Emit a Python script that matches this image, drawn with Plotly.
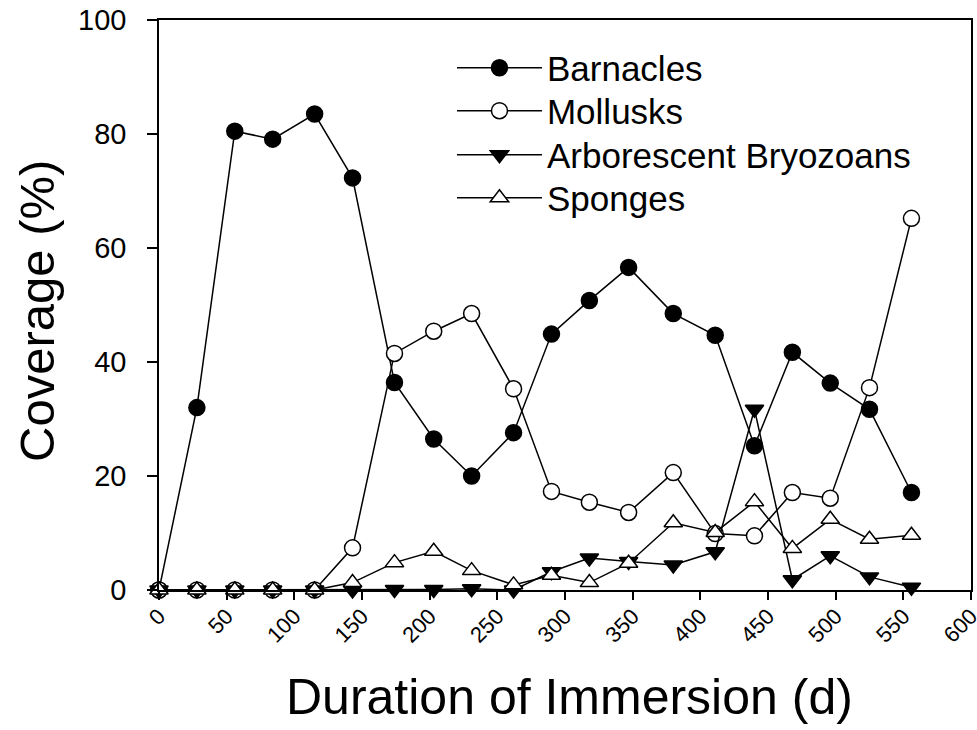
import plotly.graph_objects as go

days = [0, 28, 56, 84, 115, 143, 174, 203, 231, 262, 290, 318, 347, 380, 411, 440, 468, 496, 525, 556]
barnacles = [0, 32.0, 80.5, 79.1, 83.5, 72.3, 36.4, 26.5, 20.0, 27.6, 44.9, 50.8, 56.6, 48.5, 44.7, 25.3, 41.7, 36.3, 31.7, 17.1]
mollusks = [0, 0, 0, 0, 0, 7.4, 41.5, 45.4, 48.5, 35.3, 17.3, 15.4, 13.6, 20.6, 9.9, 9.5, 17.1, 16.1, 35.5, 65.2]
bryozoans = [0, 0, 0, 0, 0, 0, 0.1, 0.1, 0.2, 0, 3.2, 5.6, 5.0, 4.4, 6.7, 31.7, 1.8, 6.0, 2.3, 0.5]
sponges = [0, 0, 0, 0, 0, 1.3, 4.8, 6.8, 3.4, 0.9, 2.6, 1.3, 4.7, 11.8, 10.1, 15.5, 7.3, 12.4, 8.9, 9.6]

x_ticks = [0, 50, 100, 150, 200, 250, 300, 350, 400, 450, 500, 550, 600]
y_ticks = [0, 20, 40, 60, 80, 100]
x_title = "Duration of Immersion (d)"
y_title = "Coverage (%)"

series = [
    ("Barnacles", barnacles, "circle", "black"),
    ("Mollusks", mollusks, "circle", "white"),
    ("Arborescent Bryozoans", bryozoans, "triangle-down", "black"),
    ("Sponges", sponges, "triangle-up", "white"),
]
legend_ids = ["legend", "legend2", "legend3", "legend4"]
legend_rows_y = [0.9158, 0.8404, 0.7632, 0.6877]

FONT = "Liberation Sans, Arial, sans-serif"

fig = go.Figure()
for (name, vals, sym, fill), lid in zip(series, legend_ids):
    fig.add_trace(go.Scatter(
        x=days, y=vals, name=name, mode="lines+markers",
        line=dict(color="black", width=1.5),
        marker=dict(symbol=sym, size=16, color=fill, line=dict(color="black", width=1.5)),
        cliponaxis=False, legend=lid,
    ))

legend_style = dict(
    x=0.3608, xanchor="left", yanchor="middle",
    font=dict(size=35, family=FONT, color="black"),
    itemwidth=85, bgcolor="rgba(0,0,0,0)",
)
layout_legends = {lid: dict(legend_style, y=ly) for lid, ly in zip(legend_ids, legend_rows_y)}

fig.update_layout(
    width=977, height=730,
    margin=dict(l=159, r=6, t=20, b=140),
    paper_bgcolor="white", plot_bgcolor="white",
    font=dict(family=FONT, color="black"),
    showlegend=True,
    **layout_legends,
    xaxis=dict(
        range=[0, 600], tickvals=x_ticks, ticktext=[str(t) for t in x_ticks],
        tickangle=-45, tickfont=dict(size=22, family=FONT),
        ticks="outside", ticklen=8, tickwidth=1.5, tickcolor="black",
        showline=True, linecolor="black", linewidth=1.5, mirror=True,
        showgrid=False, zeroline=False, automargin=False,
        ticklabeloverflow="allow", ticklabelstandoff=-5,
    ),
    yaxis=dict(
        range=[0, 100], tickvals=y_ticks,
        tickfont=dict(size=29, family=FONT),
        ticks="outside", ticklen=10, tickwidth=1.5, tickcolor="black",
        showline=True, linecolor="black", linewidth=1.5, mirror=True,
        showgrid=False, zeroline=False, automargin=False,
        ticklabelstandoff=15, ticklabeloverflow="allow",
    ),
    annotations=[
        dict(text=x_title, xref="paper", yref="paper", x=0.505, y=-0.1877,
             xanchor="center", yanchor="middle", showarrow=False,
             font=dict(size=50, family=FONT, color="black")),
        dict(text=y_title, xref="paper", yref="paper", x=-0.150, y=0.49,
             xanchor="center", yanchor="middle", textangle=-90, showarrow=False,
             font=dict(size=49, family=FONT, color="black")),
    ],
)

# remove the browser's default 8px body margin so the figure fills the window exactly
fig.write_html("out.html", config={"displayModeBar": False},
               post_script="document.body.style.margin='0';")
